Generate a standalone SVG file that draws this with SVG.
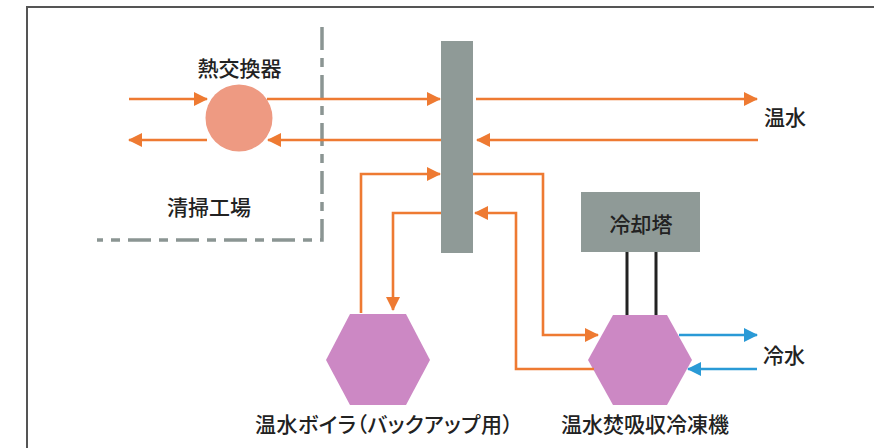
<svg xmlns="http://www.w3.org/2000/svg" width="874" height="448" viewBox="0 0 874 448">
<style>
text{font-family:"Noto Sans CJK JP","Noto Sans",sans-serif;font-size:21px;font-weight:500;fill:#222}
.o{fill:none;stroke:#ee7a32;stroke-width:2.6;marker-end:url(#ao)}
.b{fill:none;stroke:#2a9ad6;stroke-width:2.6;marker-end:url(#ab)}
.k{fill:none;stroke:#222;stroke-width:3}
.hex{fill:#cc88c4}
.gray{fill:#8f9a97}
</style>
<defs>
<marker id="ao" markerUnits="userSpaceOnUse" markerWidth="14" markerHeight="14" refX="13" refY="7" orient="auto"><path d="M0,0 L14,7 L0,14 z" fill="#ee7a32"/></marker>
<marker id="ab" markerUnits="userSpaceOnUse" markerWidth="14" markerHeight="14" refX="13" refY="7" orient="auto"><path d="M0,0 L14,7 L0,14 z" fill="#2a9ad6"/></marker>
</defs>
<rect width="874" height="448" fill="#fff"/>
<path d="M27,448 V7 H874" fill="none" stroke="#555" stroke-width="2"/>
<path d="M322,27 V240 H97" fill="none" stroke="#8b9593" stroke-width="3.5" stroke-dasharray="23 8 9 8"/>
<g id="heat-exchanger">
<circle cx="239" cy="118" r="33.5" fill="#ee9a82"/>
<text x="239.5" y="75.5" text-anchor="middle">熱交換器</text>
</g>
<g id="plant-label"><text x="209" y="214.5" text-anchor="middle">清掃工場</text></g>
<g id="header"><rect class="gray" x="441" y="41" width="32" height="212"/></g>
<g id="cooling-tower">
<rect class="gray" x="581" y="192" width="119" height="60"/>
<text x="641" y="232" text-anchor="middle">冷却塔</text>
</g>
<g id="boiler">
<polygon class="hex" points="350,314 406,314 430,360 406,405 350,405 326,360"/>
<text x="384" y="431.5" text-anchor="middle" textLength="258" lengthAdjust="spacing" style="font-feature-settings:'palt'">温水ボイラ（バックアップ用）</text>
</g>
<g id="chiller">
<polygon class="hex" points="613,315 667,315 692,360 667,405 613,405 588,360"/>
<text x="645" y="431.5" text-anchor="middle">温水焚吸収冷凍機</text>
</g>
<g id="hot-water-label"><text x="764" y="125">温水</text></g>
<g id="cold-water-label"><text x="763" y="362.5">冷水</text></g>
<g id="connectors">
<path class="o" d="M129,99 H207"/>
<path class="o" d="M267,99 H440"/>
<path class="o" d="M476,99 H757"/>
<path class="o" d="M758,140 H477"/>
<path class="o" d="M441,140 H268"/>
<path class="o" d="M207,140 H129"/>
<path class="o" d="M361,313 V174 H440"/>
<path class="o" d="M473,174 H543 V335 H598"/>
<path class="o" d="M441,213 H393 V310"/>
<path class="o" d="M594,369 H516 V213 H475"/>
<path class="b" d="M679,335 H757"/>
<path class="b" d="M757,369 H688"/>
<path class="k" d="M627,252 V315 M656,252 V315"/>
</g>
</svg>
